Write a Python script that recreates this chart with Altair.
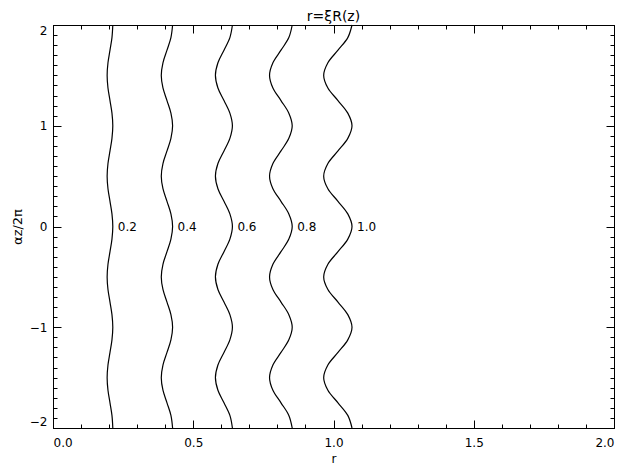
import altair as alt
import pandas as pd

# curve parameters (xi) and their labels
xi_values = [0.2, 0.4, 0.6, 0.8, 1.0]
xi_labels = ["0.2", "0.4", "0.6", "0.8", "1.0"]

# vertical coordinate alpha z / 2 pi, sampled every 1/8
z_values = [-2.0, -1.875, -1.75, -1.625, -1.5, -1.375, -1.25, -1.125,
            -1.0, -0.875, -0.75, -0.625, -0.5, -0.375, -0.25, -0.125,
            0.0, 0.125, 0.25, 0.375, 0.5, 0.625, 0.75, 0.875,
            1.0, 1.125, 1.25, 1.375, 1.5, 1.625, 1.75, 1.875, 2.0]

# profile R(z) (xi = 1)
R_values = [1.066, 1.051, 1.016, 0.980, 0.965, 0.980, 1.016, 1.051,
            1.066, 1.051, 1.016, 0.980, 0.965, 0.980, 1.016, 1.051,
            1.066, 1.051, 1.016, 0.980, 0.965, 0.980, 1.016, 1.051,
            1.066, 1.051, 1.016, 0.980, 0.965, 0.980, 1.016, 1.051,
            1.066]

x_major = [0.0, 0.5, 1.0, 1.5, 2.0]
x_minor = [round(i * 0.1, 1) for i in range(21)]
y_major = [-2, -1, 0, 1, 2]
y_minor = [round(-2 + i * 0.1, 1) for i in range(41)]

rows = []
for xi in xi_values:
    for z, R in zip(z_values, R_values):
        rows.append({"xi": xi, "z": z, "r": xi * R})
df = pd.DataFrame(rows)

lab = pd.DataFrame({"xi": xi_values, "label": xi_labels,
                    "r": [xi * R_values[16] for xi in xi_values],
                    "z": [0.0] * len(xi_values)})

FONT = "DejaVu Sans"
xscale = alt.Scale(domain=[0, 2], nice=False, zero=False)
yscale = alt.Scale(domain=[-2, 2], nice=False, zero=False)

common = dict(domain=False, grid=False, tickColor="black", labelColor="black",
              titleColor="black", labelFont=FONT, titleFont=FONT,
              labelFontSize=12, titleFontWeight="normal")

lines = alt.Chart(df).mark_line(interpolate="catmull-rom", color="black", strokeWidth=1.2).encode(
    x=alt.X("r:Q", scale=xscale,
            axis=alt.Axis(orient="bottom", values=x_major, format=".1f", tickSize=8,
                          offset=-8, title="r", labelPadding=9, titlePadding=5,
                          titleFontSize=12, **common)),
    y=alt.Y("z:Q", scale=yscale,
            axis=alt.Axis(orient="left", values=y_major, format="d", tickSize=8,
                          offset=-8, title="αz/2π", labelPadding=6, titlePadding=5,
                          titleFontSize=13, labelFlush=True, **common)),
    detail="xi:N",
    order=alt.Order("z:Q"),
)

texts = alt.Chart(lab).mark_text(align="left", baseline="middle", dx=5, font=FONT,
                                 fontSize=12, color="black").encode(
    x=alt.X("r:Q", scale=xscale, axis=None),
    y=alt.Y("z:Q", scale=yscale, axis=None),
    text="label:N",
)

def ghost(xorient, yorient, xvals, yvals, size):
    return alt.Chart(df).mark_line(strokeOpacity=0).encode(
        x=alt.X("r:Q", scale=xscale,
                axis=alt.Axis(orient=xorient, values=xvals, tickSize=size, offset=-size,
                              labels=False, title="", domain=False, grid=False, tickColor="black")),
        y=alt.Y("z:Q", scale=yscale,
                axis=alt.Axis(orient=yorient, values=yvals, tickSize=size, offset=-size,
                              labels=False, title="", domain=False, grid=False, tickColor="black")),
        detail="xi:N",
    )

g1 = ghost("bottom", "left", x_minor, y_minor, 4)
g2 = ghost("top", "right", x_major, y_major, 8)
g3 = ghost("top", "right", x_minor, y_minor, 4)

chart = alt.layer(lines, texts, g1, g2, g3).resolve_axis(
    x="independent", y="independent"
).properties(
    width=561, height=403,
    title=alt.TitleParams("r=ξR(z)", font=FONT, fontSize=14, fontWeight="normal",
                          color="black", offset=-1),
    autosize=alt.AutoSizeParams(type="none"),
    padding={"left": 45, "top": 17, "right": 5, "bottom": 37},
).configure_view(stroke="black", strokeWidth=1)

chart.save("out.html", embed_options={"renderer": "svg", "actions": False})
